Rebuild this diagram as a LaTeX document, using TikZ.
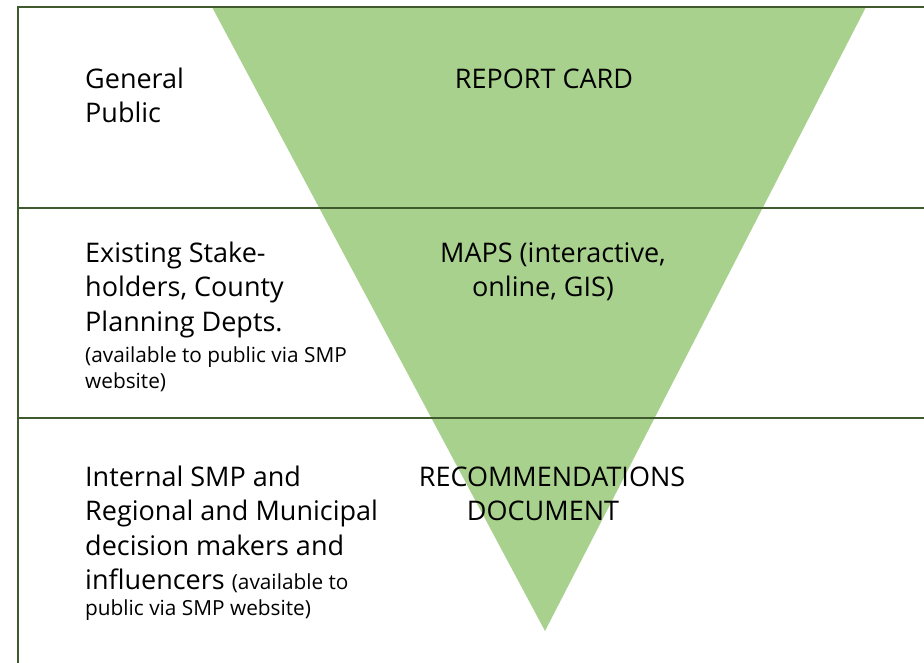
\documentclass[tikz,border=0pt]{standalone}
\usepackage{fontspec}
\setmainfont{Open Sans}
\definecolor{rule}{HTML}{3F5A2C}
\definecolor{tri}{HTML}{A9D18E}
\begin{document}
\begin{tikzpicture}[x=1pt,y=-1pt,
  big/.style={inner sep=0pt,anchor=base west,font=\fontsize{27}{32}\selectfont},
  bigc/.style={inner sep=0pt,anchor=base,font=\fontsize{27}{32}\selectfont},
  small/.style={inner sep=0pt,anchor=base west,font=\fontsize{20.8}{25}\selectfont},
  rulel/.style={draw=rule,line width=2.6pt}]
\useasboundingbox (0,0) rectangle (924,663);
\fill[white] (0,0) rectangle (924,663);
% triangle
\coordinate (tl) at (212,7);
\coordinate (tr) at (866,7);
\coordinate (tb) at (545,631);
\fill[tri] (tl) -- (tr) -- (tb) -- cycle;
% rules
\coordinate (a0) at (18,7);
\coordinate (a1) at (924,7);
\coordinate (b0) at (18,208);
\coordinate (b1) at (924,208);
\coordinate (c0) at (18,418);
\coordinate (c1) at (924,418);
\coordinate (d0) at (18,663);
\draw[rulel] (a1) -- (a0) -- (d0);
\draw[rulel] (b0) -- (b1);
\draw[rulel] (c0) -- (c1);
% row 1
\node[big] (g1) at (85,89) {General};
\node[big] (g2) at (85,123) {Public};
\node[bigc] (rc) at (544,89) {REPORT CARD};
% row 2
\node[big] (e1) at (85,262) {Existing Stake-};
\node[big] (e2) at (85,296) {holders, County};
\node[big] (e3) at (85,331) {Planning Depts.};
\node[small] (e4) at (85,362) {(available to public via SMP};
\node[small] (e5) at (85,388) {website)};
\node[bigc] (m1) at (553,262) {MAPS (interactive,};
\node[bigc] (m2) at (543,296) {online, GIS)};
% row 3
\node[big] (i1) at (85,486) {Internal SMP and};
\node[big] (i2) at (85,520) {Regional and Municipal};
\node[big] (i3) at (85,555) {decision makers and};
\node[big] (i4) at (85,589) {influencers {\fontsize{20.8}{25}\selectfont(available to}};
\node[small] (i5) at (85,615) {public via SMP website)};
\node[bigc] (r1) at (552,486) {RECOMMENDATIONS};
\node[bigc] (r2) at (543,520) {DOCUMENT};
\end{tikzpicture}
\end{document}
